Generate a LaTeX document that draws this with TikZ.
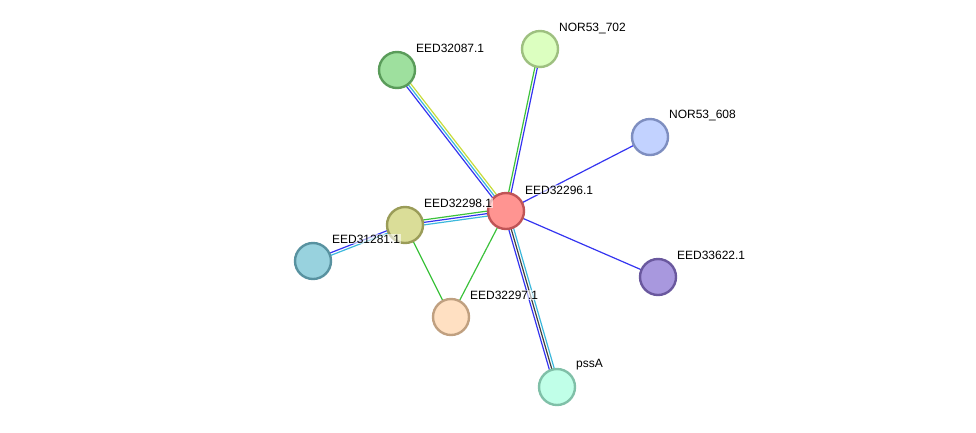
\documentclass[tikz,border=0pt]{standalone}
\usepackage{fontspec}
\setmainfont{Liberation Sans}
\usetikzlibrary{calc, backgrounds}

% colours of the proteins and of the evidence channels
\definecolor{hubfill}{HTML}{FF9491}\definecolor{hubdraw}{HTML}{C05456}
\definecolor{gfill}{HTML}{9EE09E}\definecolor{gdraw}{HTML}{5A9C5A}
\definecolor{lgfill}{HTML}{DCFFC0}\definecolor{lgdraw}{HTML}{9EC080}
\definecolor{bfill}{HTML}{C2D2FF}\definecolor{bdraw}{HTML}{7E8EC0}
\definecolor{ofill}{HTML}{DADD98}\definecolor{odraw}{HTML}{9A9C58}
\definecolor{tfill}{HTML}{98D2DE}\definecolor{tdraw}{HTML}{5892A0}
\definecolor{pfill}{HTML}{A898DE}\definecolor{pdraw}{HTML}{6A589E}
\definecolor{sfill}{HTML}{FFE0C2}\definecolor{sdraw}{HTML}{C0A080}
\definecolor{mfill}{HTML}{C0FFE8}\definecolor{mdraw}{HTML}{80C0A8}
\definecolor{evblue}{HTML}{3434F0}
\definecolor{evgreen}{HTML}{3CC23C}
\definecolor{evcyan}{HTML}{3CB8DC}
\definecolor{evyellow}{HTML}{C8DC3C}
\definecolor{evblack}{HTML}{404040}

% one strand of an edge, shifted sideways by #3
\newcommand{\strand}[4]{\draw[#4] ($(#1)!#3!90:(#2)$) -- ($(#2)!#3!-90:(#1)$);}

\begin{document}
\begin{tikzpicture}[
    x=1pt, y=-1pt,
    protein/.style={circle, minimum size=36pt, inner sep=0pt, line width=2.4pt},
    tag/.style={font=\fontsize{12}{14}\selectfont, anchor=west, inner sep=0.5pt,
                fill=white, fill opacity=0.6, text opacity=1},
    every path/.append style={line width=1.2pt}
]
   \useasboundingbox (0,0) rectangle (976,432);

   % Proteins
   \node[protein, fill=hubfill, draw=hubdraw] (hub) at (506,211) {};
   \node[protein, fill=gfill, draw=gdraw] (e087) at (397,70) {};
   \node[protein, fill=lgfill, draw=lgdraw] (n702) at (540,49) {};
   \node[protein, fill=bfill, draw=bdraw] (n608) at (650,137) {};
   \node[protein, fill=ofill, draw=odraw] (e298) at (405,225) {};
   \node[protein, fill=tfill, draw=tdraw] (e281) at (313,261) {};
   \node[protein, fill=pfill, draw=pdraw] (e622) at (658,277) {};
   \node[protein, fill=sfill, draw=sdraw] (e297) at (451,317) {};
   \node[protein, fill=mfill, draw=mdraw] (pssa) at (557,387) {};

   % Labels
   \node[tag] (lhub) at ($(hub)+(18,-21)$) {EED32296.1};
   \node[tag] (l087) at ($(e087)+(18,-22)$) {EED32087.1};
   \node[tag] (l702) at ($(n702)+(18,-21)$) {NOR53\_702};
   \node[tag] (l608) at ($(n608)+(18,-22)$) {NOR53\_608};
   \node[tag] (l298) at ($(e298)+(18,-22)$) {EED32298.1};
   \node[tag] (l281) at ($(e281)+(18,-22)$) {EED31281.1};
   \node[tag] (l622) at ($(e622)+(18,-22)$) {EED33622.1};
   \node[tag] (l297) at ($(e297)+(18,-22)$) {EED32297.1};
   \node[tag] (lpssa) at ($(pssa)+(18,-22)$) {pssA};

   % Interactions
   \begin{scope}[on background layer]
      \strand{hub}{e087}{2.5pt}{evblue}
      \strand{hub}{e087}{0pt}{evcyan}
      \strand{hub}{e087}{-2.5pt}{evyellow}
      \strand{hub}{n702}{1.25pt}{evgreen}
      \strand{hub}{n702}{-1.25pt}{evblue}
      \strand{hub}{n608}{0pt}{evblue}
      \strand{hub}{e622}{0pt}{evblue}
      \strand{hub}{pssa}{2.5pt}{evcyan}
      \strand{hub}{pssa}{0pt}{evblack}
      \strand{hub}{pssa}{-2.5pt}{evblue}
      \strand{hub}{e298}{2.5pt}{evcyan}
      \strand{hub}{e298}{0pt}{evblue}
      \strand{hub}{e298}{-2.5pt}{evgreen}
      \strand{hub}{e297}{0pt}{evgreen}
      \strand{e298}{e281}{1.25pt}{evcyan}
      \strand{e298}{e281}{-1.25pt}{evblue}
      \strand{e298}{e297}{0pt}{evgreen}
   \end{scope}
\end{tikzpicture}
\end{document}
